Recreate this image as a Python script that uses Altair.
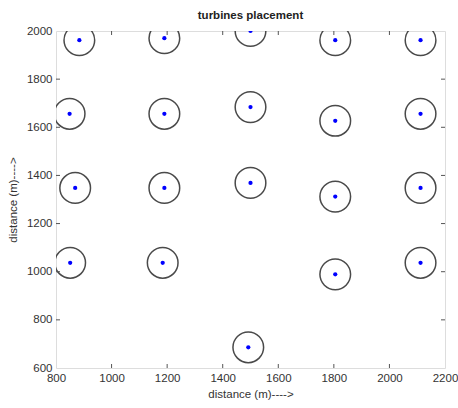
import altair as alt
import pandas as pd

# turbine positions (m)
xs = [884, 1190, 1500, 1805, 2112,
      849, 1190, 1500, 1805, 2112,
      869, 1190, 1500, 1805, 2112,
      851, 1184, 1805, 2112,
      1492]
ys = [1962, 1970, 2000, 1962, 1962,
      1656, 1656, 1684, 1627, 1656,
      1348, 1348, 1369, 1312, 1348,
      1037, 1037, 989, 1037,
      686]

x_ticks = [800, 1000, 1200, 1400, 1600, 1800, 2000, 2200]
y_ticks = [600, 800, 1000, 1200, 1400, 1600, 1800, 2000]
x_inner = [1000, 1200, 1400, 1600, 1800, 2000]
y_inner = [800, 1000, 1200, 1400, 1600, 1800]

W, H = 389, 337

df = pd.DataFrame({"x": xs, "y": ys})
dxt = pd.DataFrame({"t": x_inner})
dyt = pd.DataFrame({"t": y_inner})

font = "Liberation Sans"
xscale = alt.Scale(domain=[800, 2200], nice=False, zero=False)
yscale = alt.Scale(domain=[600, 2000], nice=False, zero=False)

xaxis = alt.Axis(values=x_ticks, title="distance (m)---->", ticks=False, domain=False,
                 grid=False, labelFontSize=11.5, labelColor="#333", labelFont=font,
                 labelPadding=4, labelFlush=False, labelOverlap=False,
                 titleFont=font, titleFontSize=11.5, titleFontWeight="normal",
                 titleColor="#333", titlePadding=5, format="d")
yaxis = alt.Axis(values=y_ticks, title="distance (m)---->", ticks=False, domain=False,
                 grid=False, labelFontSize=11.5, labelColor="#333", labelFont=font,
                 labelPadding=4, labelFlush=False, labelOverlap=False,
                 titleFont=font, titleFontSize=11.5, titleFontWeight="normal",
                 titleColor="#333", titlePadding=8, format="d")

rings = alt.Chart(df).mark_point(shape="circle", filled=False, size=940, clip=True,
                                 color="#4a4a4a", strokeWidth=1.5, opacity=1).encode(
    x=alt.X("x:Q", scale=xscale, axis=xaxis),
    y=alt.Y("y:Q", scale=yscale, axis=yaxis),
)
dots = alt.Chart(df).mark_point(shape="circle", filled=True, size=18, color="#0000ff",
                                opacity=1, clip=True).encode(
    x=alt.X("x:Q", scale=xscale),
    y=alt.Y("y:Q", scale=yscale),
)

tick_style = dict(color="#555", strokeWidth=1)
xb = alt.Chart(dxt).mark_rule(**tick_style).encode(
    x=alt.X("t:Q", scale=xscale), y=alt.value(H), y2=alt.value(H - 4))
xt = alt.Chart(dxt).mark_rule(**tick_style).encode(
    x=alt.X("t:Q", scale=xscale), y=alt.value(0), y2=alt.value(4))
yl = alt.Chart(dyt).mark_rule(**tick_style).encode(
    y=alt.Y("t:Q", scale=yscale), x=alt.value(0), x2=alt.value(4))
yr = alt.Chart(dyt).mark_rule(**tick_style).encode(
    y=alt.Y("t:Q", scale=yscale), x=alt.value(W), x2=alt.value(W - 4))

chart = alt.layer(rings, dots, xb, xt, yl, yr).properties(
    width=W, height=H,
    title=alt.TitleParams("turbines placement", font=font, fontSize=11.5, fontWeight="bold",
                          color="#222", anchor="middle", offset=4),
    autosize=alt.AutoSizeParams(type="none"),
    padding={"left": 56, "top": 31, "right": 13, "bottom": 40},
).configure_view(stroke="#555", strokeWidth=1.2).configure(background="white")

chart.save("out.html", embed_options={"renderer": "svg", "actions": False})
